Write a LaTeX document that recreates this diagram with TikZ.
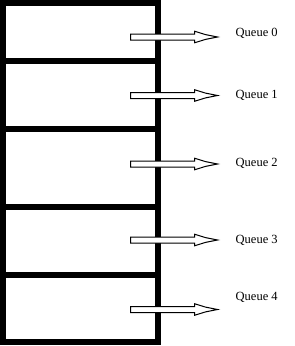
\documentclass[tikz,border=0pt]{standalone}
\usepackage{fontspec}
\setmainfont{Liberation Serif}
\begin{document}
\begin{tikzpicture}[x=1pt,y=-1pt,
  frame/.style={line width=6pt},
  divider/.style={line width=6pt},
  qlabel/.style={anchor=base west,inner sep=0pt,font=\fontsize{12.5}{14}\selectfont},
  qarrow/.pic={\draw[line width=1pt,fill=white,line join=miter]
     (0,-3) -- (64,-3) -- (64,-5.8) -- (75,-2.4) -- (87,0) -- (75,2.4) -- (64,5.8) -- (64,3) -- (0,3) -- cycle;}]
\useasboundingbox (0,0) rectangle (295,346);
% stack frame
\draw[frame] (3,3) rectangle (157.5,341.5);
\coordinate (L1) at (3,61);   \coordinate (R1) at (157.5,61);
\coordinate (L2) at (3,129);  \coordinate (R2) at (157.5,129);
\coordinate (L3) at (3,207);  \coordinate (R3) at (157.5,207);
\coordinate (L4) at (3,275);  \coordinate (R4) at (157.5,275);
\draw[divider] (L1) -- (R1);
\draw[divider] (L2) -- (R2);
\draw[divider] (L3) -- (R3);
\draw[divider] (L4) -- (R4);
% arrows
\pic at (130.5,37) {qarrow};
\pic at (130.5,95.5) {qarrow};
\pic at (130.5,164) {qarrow};
\pic at (130.5,240) {qarrow};
\pic at (130.5,309.5) {qarrow};
% labels
\node[qlabel] (q0) at (235.5,36.7) {Queue 0};
\node[qlabel] (q1) at (235.5,98) {Queue 1};
\node[qlabel] (q2) at (235.5,166.7) {Queue 2};
\node[qlabel] (q3) at (235.5,243) {Queue 3};
\node[qlabel] (q4) at (235.5,300.7) {Queue 4};
\end{tikzpicture}
\end{document}
